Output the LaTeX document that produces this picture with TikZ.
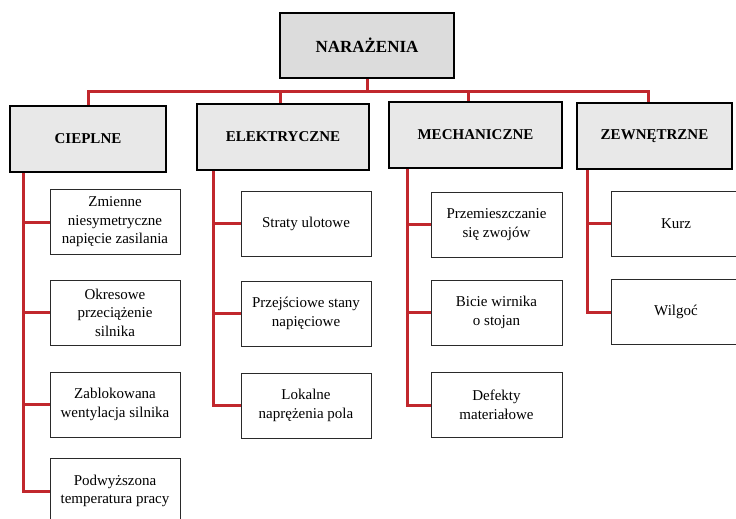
\documentclass[tikz,border=0pt]{standalone}
\usepackage{fontspec}
\setmainfont{Liberation Serif}
\usetikzlibrary{backgrounds}
\definecolor{headgray}{HTML}{DCDCDC}
\definecolor{catgray}{HTML}{E8E8E8}
\definecolor{leafline}{HTML}{2A2A2A}
\definecolor{linkred}{HTML}{C1272D}
\begin{document}
\begin{tikzpicture}[x=1pt,y=-1pt,
  head/.style={draw=black,line width=2.2pt,fill=headgray,minimum width=174pt,minimum height=65pt,inner sep=0pt,
    font=\fontsize{17}{20}\selectfont\bfseries},
  cat/.style={draw=black,line width=2pt,fill=catgray,minimum height=66pt,inner sep=0pt,
    font=\fontsize{15}{18}\selectfont\bfseries},
  leaf/.style={draw=leafline,line width=1pt,fill=white,minimum width=130pt,minimum height=65pt,inner sep=0pt,
    align=center,font=\fontsize{15}{18.5}\selectfont},
  link/.style={draw=linkred,line width=3pt,line join=miter,line cap=rect}]
\useasboundingbox (0,0) rectangle (736,519);
\clip (0,0) rectangle (736,519);

% bus and branch positions
\coordinate (bus) at (367,91);
\coordinate (b1) at (88,91);
\coordinate (b2) at (280,91);
\coordinate (b3) at (468,91);
\coordinate (b4) at (648,91);
\coordinate (v1) at (23,0);
\coordinate (v2) at (213,0);
\coordinate (v3) at (407,0);
\coordinate (v4) at (587,0);

% boxes
\node[head] (top) at (367,45.5) {NARAŻENIA};

\node[cat,minimum width=156pt] (cat1) at (88,138.5) {CIEPLNE};
\node[cat,minimum width=172pt] (cat2) at (283,137) {ELEKTRYCZNE};
\node[cat,minimum width=173pt] (cat3) at (475.5,135) {MECHANICZNE};
\node[cat,minimum width=155pt] (cat4) at (654.5,136) {ZEWNĘTRZNE};

\node[leaf] (c11) at (115,222) {Zmienne\\niesymetryczne\\napięcie zasilania};
\node[leaf] (c12) at (115,312.5) {Okresowe\\przeciążenie\\silnika};
\node[leaf] (c13) at (115,404.5) {Zablokowana\\wentylacja silnika};
\node[leaf] (c14) at (115,491) {Podwyższona\\temperatura pracy};

\node[leaf] (c21) at (306,223.5) {Straty ulotowe};
\node[leaf] (c22) at (306,313.5) {Przejściowe stany\\napięciowe};
\node[leaf] (c23) at (306,405.5) {Lokalne\\naprężenia pola};

\node[leaf,minimum width=131pt] (c31) at (496.5,224.5) {Przemieszczanie\\się zwojów};
\node[leaf,minimum width=131pt] (c32) at (496.5,312.5) {Bicie wirnika\\o stojan};
\node[leaf,minimum width=131pt] (c33) at (496.5,405) {Defekty\\materiałowe};

\node[leaf] (c41) at (676,223.5) {Kurz};
\node[leaf] (c42) at (676,312) {Wilgoć};

% connectors, kept under the boxes
\begin{scope}[on background layer]
\draw[link] (top.south) -- (bus);
\draw[link] (b1) -- (b4);
\draw[link] (b1) -- (b1 |- cat1.north);
\draw[link] (b2) -- (b2 |- cat2.north);
\draw[link] (b3) -- (b3 |- cat3.north);
\draw[link] (b4) -- (b4 |- cat4.north);

\draw[link] (v1 |- cat1.south) -- (v1 |- c14.west) -- (c14.west);
\draw[link] (v1 |- c11.west) -- (c11.west);
\draw[link] (v1 |- c12.west) -- (c12.west);
\draw[link] (v1 |- c13.west) -- (c13.west);

\draw[link] (v2 |- cat2.south) -- (v2 |- c23.west) -- (c23.west);
\draw[link] (v2 |- c21.west) -- (c21.west);
\draw[link] (v2 |- c22.west) -- (c22.west);

\draw[link] (v3 |- cat3.south) -- (v3 |- c33.west) -- (c33.west);
\draw[link] (v3 |- c31.west) -- (c31.west);
\draw[link] (v3 |- c32.west) -- (c32.west);

\draw[link] (v4 |- cat4.south) -- (v4 |- c42.west) -- (c42.west);
\draw[link] (v4 |- c41.west) -- (c41.west);
\end{scope}
\end{tikzpicture}
\end{document}
